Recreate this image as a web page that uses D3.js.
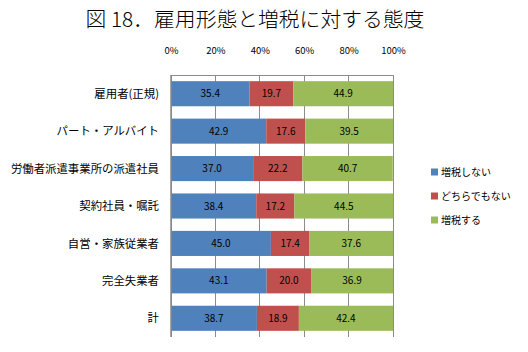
<!DOCTYPE html>
<html>
<head>
<meta charset="utf-8">
<script src="https://cdn.jsdelivr.net/npm/d3@7"></script>
<style>
  body { margin: 0; background: #fff; }
  svg { display: block; }
  text { font-family: "Noto Sans CJK JP", sans-serif; fill: #000; }
</style>
</head>
<body>
<svg width="528" height="352"></svg>
<script>
const categories = ["雇用者(正規)", "パート・アルバイト", "労働者派遣事業所の派遣社員", "契約社員・嘱託", "自営・家族従業者", "完全失業者", "計"];
const seriesNames = ["増税しない", "どちらでもない", "増税する"];
const noTax = [35.4, 42.9, 37.0, 38.4, 45.0, 43.1, 38.7];
const neither = [19.7, 17.6, 22.2, 17.2, 17.4, 20.0, 18.9];
const yesTax = [44.9, 39.5, 40.7, 44.5, 37.6, 36.9, 42.4];
const tickValues = [0, 20, 40, 60, 80, 100];
const colors = ["#4F81BD", "#C0504D", "#9BBB59"];

const svg = d3.select("svg");

const margin = {left: 171, right: 135, top: 75, bottom: 15};
const W = 528, H = 352;

const x = d3.scaleLinear().domain([0, 100]).range([margin.left, W - margin.right]);
const y = d3.scaleBand().domain(categories).range([margin.top, H - margin.bottom]).paddingInner(0.33).paddingOuter(0.165);

// title
svg.append("text")
  .attr("x", 255).attr("y", 27)
  .attr("text-anchor", "middle")
  .attr("font-size", 20.8)
  .style("font-weight", 300)
  .text("図 18．雇用形態と増税に対する態度");

// gridlines
const grid = svg.append("g");
grid.selectAll("line").data(tickValues).enter().append("line")
  .attr("x1", d => x(d)).attr("x2", d => x(d))
  .attr("y1", margin.top).attr("y2", H - margin.bottom)
  .attr("stroke", "#8c8c8c").attr("stroke-width", 1)
  .attr("shape-rendering", "crispEdges");
grid.append("line")
  .attr("x1", x(0)).attr("x2", x(100))
  .attr("y1", margin.top).attr("y2", margin.top)
  .attr("stroke", "#8c8c8c")
  .attr("shape-rendering", "crispEdges");

// top axis
const axis = d3.axisTop(x).tickValues(tickValues).tickFormat(d => d + "%").tickSize(0).tickPadding(0);
const ag = svg.append("g").attr("transform", `translate(0,${margin.top - 28})`).call(axis);
ag.select(".domain").remove();
ag.selectAll("text").attr("font-size", 9.5).style("font-family", "\"Noto Sans CJK JP\", sans-serif").attr("dy", "0.7em");

// stacked data
const rows = categories.map((c, i) => ({cat: c, 0: noTax[i], 1: neither[i], 2: yesTax[i]}));
const stack = d3.stack().keys([0, 1, 2])(rows);

const layers = svg.append("g").selectAll("g").data(stack).enter().append("g")
  .attr("fill", (d, i) => colors[i]);

layers.selectAll("rect").data(d => d).enter().append("rect")
  .attr("x", d => x(d[0]))
  .attr("width", d => x(d[1]) - x(d[0]))
  .attr("y", d => y(d.data.cat))
  .attr("height", y.bandwidth());

layers.selectAll("text").data(d => d).enter().append("text")
  .attr("x", d => (x(d[0]) + x(d[1])) / 2)
  .attr("y", d => y(d.data.cat) + y.bandwidth() / 2)
  .attr("dy", "0.36em")
  .attr("text-anchor", "middle")
  .attr("font-size", 10)
  .text(d => (d[1] - d[0]).toFixed(1));

// left axis line
svg.append("line")
  .attr("x1", x(0)).attr("x2", x(0))
  .attr("y1", margin.top).attr("y2", H - margin.bottom)
  .attr("stroke", "#888").attr("stroke-width", 1.5);

// category labels
svg.append("g").selectAll("text").data(categories).enter().append("text")
  .attr("x", 159)
  .attr("y", d => y(d) + y.bandwidth() / 2)
  .attr("dy", "0.36em")
  .attr("text-anchor", "end")
  .attr("font-size", 11.4)
  .text(d => d);

// legend
const lg = svg.append("g").selectAll("g").data(seriesNames).enter().append("g")
  .attr("transform", (d, i) => `translate(431,${172 + i * 24})`);
lg.append("rect").attr("x", 0).attr("y", -3.5).attr("width", 7).attr("height", 7)
  .attr("fill", (d, i) => colors[i]);
lg.append("text").attr("x", 10).attr("dy", "0.36em").attr("font-size", 10).text(d => d);
</script>
</body>
</html>
